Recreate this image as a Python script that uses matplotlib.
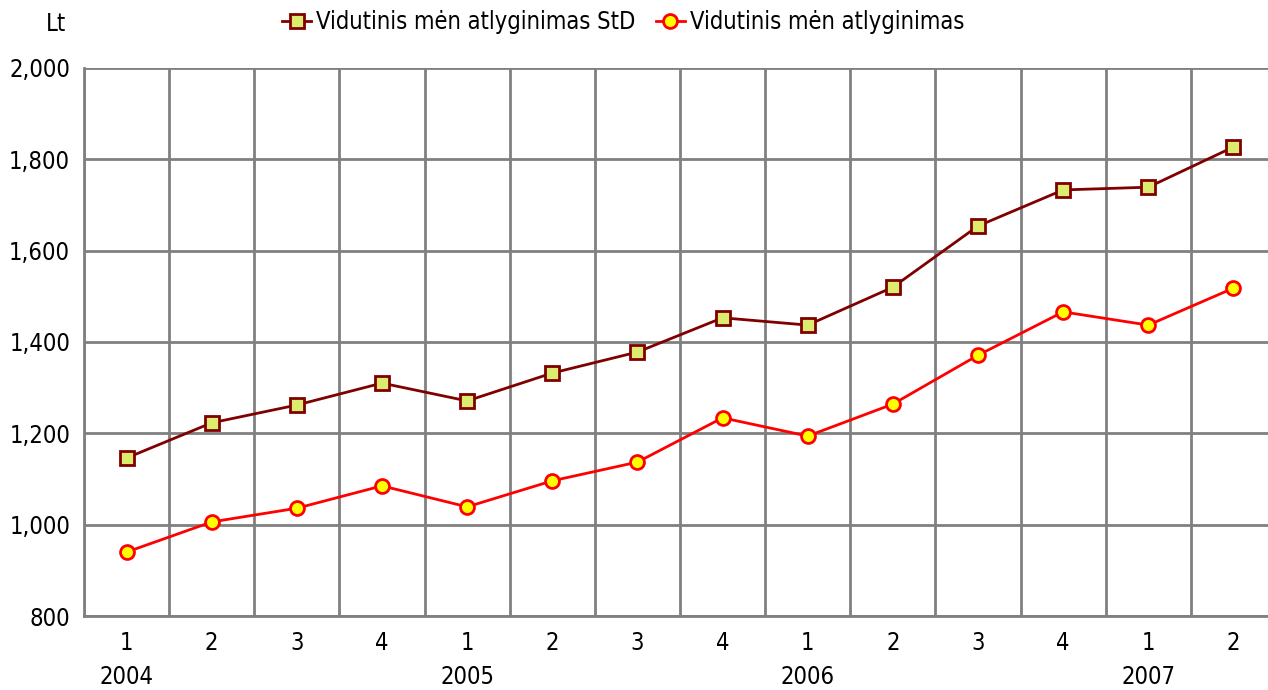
import matplotlib
matplotlib.use("Agg")
import matplotlib.pyplot as plt
import matplotlib.transforms as mtrans
import numpy as np

quarters = ["1", "2", "3", "4", "1", "2", "3", "4", "1", "2", "3", "4", "1", "2"]
years = ["2004", "2005", "2006", "2007"]
year_pos = [0, 4, 8, 12]
std_vals = [1146, 1223, 1262, 1310, 1271, 1332, 1378, 1453, 1437, 1520, 1654, 1733, 1739, 1827]
avg_vals = [940, 1006, 1036, 1085, 1039, 1096, 1137, 1234, 1194, 1264, 1371, 1466, 1437, 1518]
label_std = "Vidutinis mėn atlyginimas StD"
label_avg = "Vidutinis mėn atlyginimas"

plt.rcParams['font.family'] = ['DejaVu Sans']
plt.rcParams['font.stretch'] = 'condensed'
FS = 17
W, H = 1268, 690
fig = plt.figure(figsize=(W / 100, H / 100), dpi=100)
left, right, top, bottom = 84, 1276, 68, 616
ax = fig.add_axes([left / W, 1 - bottom / H, (right - left) / W, (bottom - top) / H])

x = np.arange(len(quarters))
ax.set_xlim(-0.5, len(quarters) - 0.5)
ax.set_ylim(800, 2000)
ax.set_yticks(np.arange(800, 2001, 200))
ax.set_yticklabels([f"{v:,}" for v in range(800, 2001, 200)], fontsize=FS)
ax.yaxis.grid(True, color="#808080", lw=2)
for b in np.arange(-0.5, len(quarters), 1.0):
    ax.axvline(b, color="#808080", lw=2, zorder=1)
ax.set_xticks(x)
ax.set_xticklabels(quarters, fontsize=FS)
ax.tick_params(axis="y", length=0, pad=10)
ax.tick_params(axis="x", length=0, pad=11)
for s in ["top", "right"]:
    ax.spines[s].set_visible(False)
for s in ["left", "bottom"]:
    ax.spines[s].set_color("#808080")
    ax.spines[s].set_linewidth(2)
ax.set_axisbelow(True)

l1, = ax.plot(x, std_vals, color="#800000", lw=2, marker="s", markersize=10,
              markerfacecolor="#dcec6e", markeredgecolor="#800000", markeredgewidth=2,
              label=label_std, zorder=3)
l2, = ax.plot(x, avg_vals, color="#ff0000", lw=2, marker="o", markersize=10,
              markerfacecolor="#ffff00", markeredgecolor="#ff0000", markeredgewidth=2,
              label=label_avg, zorder=3)

btf = mtrans.blended_transform_factory(ax.transData, fig.transFigure)
for p, y in zip(year_pos, years):
    ax.text(p, 1 - 689 / H, y, transform=btf, ha="center", va="bottom", fontsize=FS)

fig.text(56 / W, 1 - 24 / H, "Lt", ha="center", va="center", fontsize=FS)
fig.legend(handles=[l1, l2], loc="center", bbox_to_anchor=(623 / W, 1 - 22 / H), ncol=2,
           frameon=False, fontsize=FS, handlelength=1.25, handletextpad=0.2, columnspacing=0.85)

fig.savefig("out.png", dpi=100)
